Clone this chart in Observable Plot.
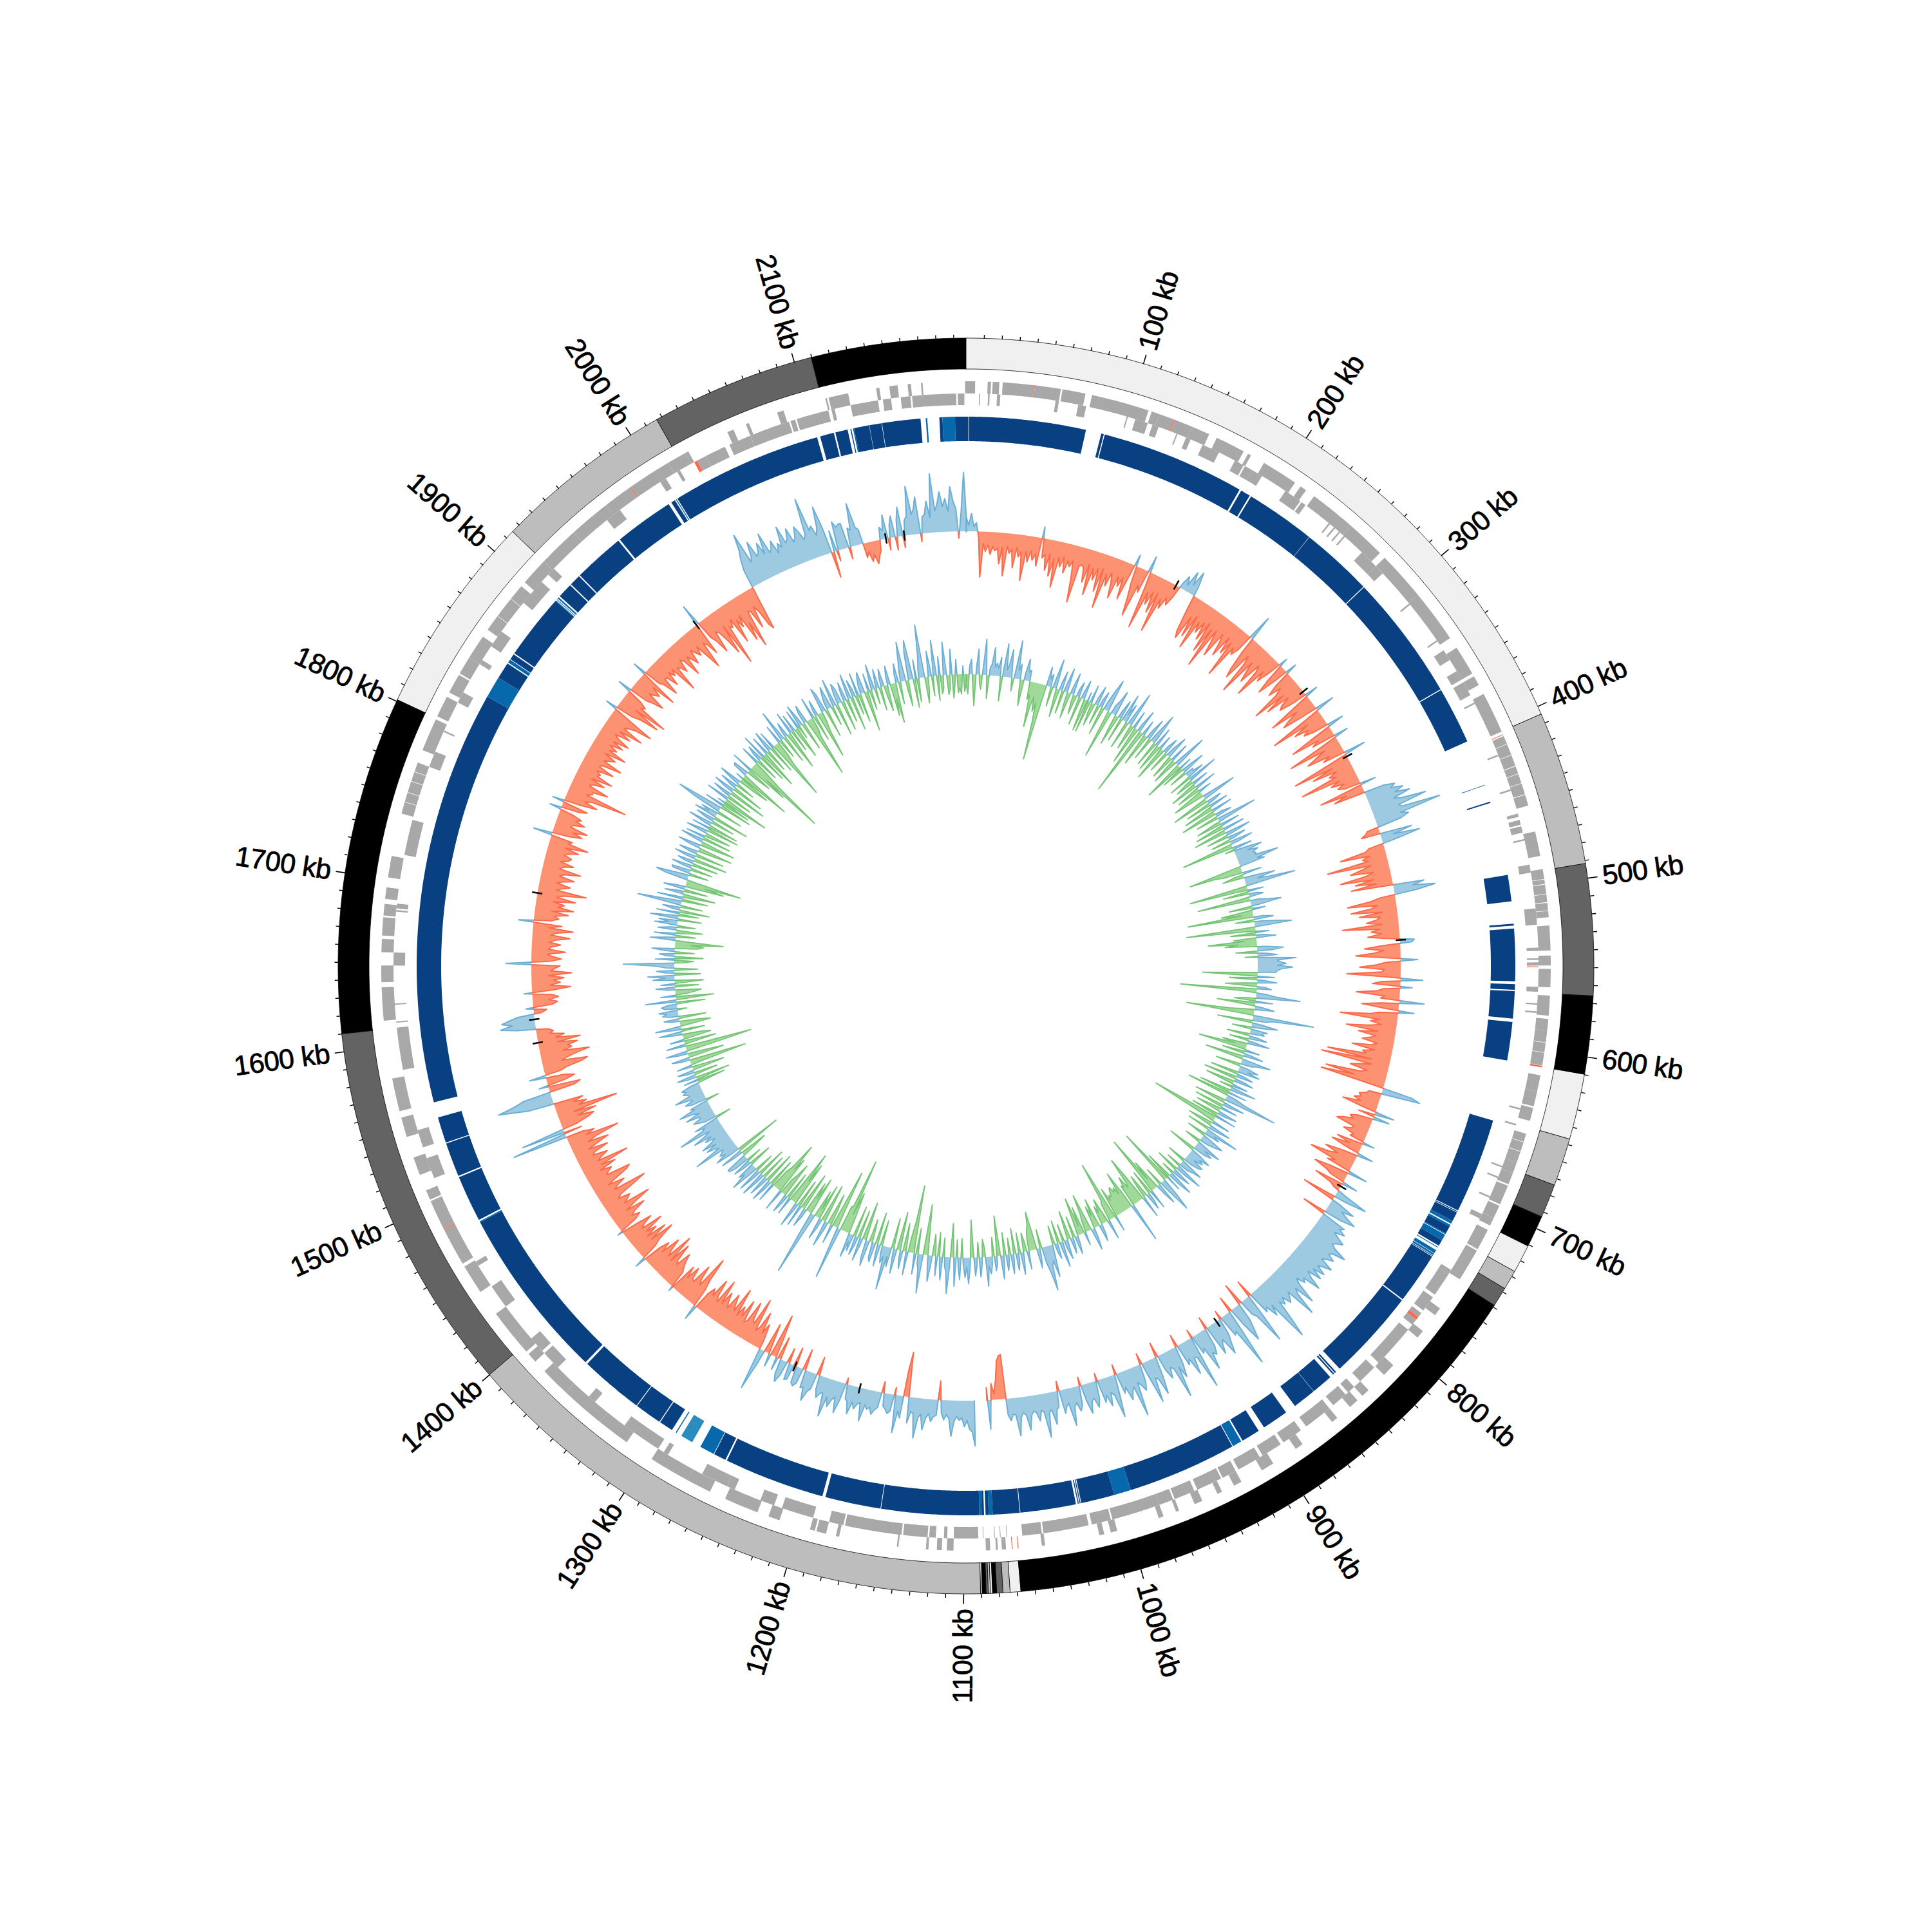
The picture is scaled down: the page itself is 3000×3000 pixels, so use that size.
<!DOCTYPE html>
<html><head><meta charset="utf-8">
<script src="https://cdn.jsdelivr.net/npm/d3@7"></script>
<script src="https://cdn.jsdelivr.net/npm/@observablehq/plot@0.6"></script>
<style>html,body{margin:0;padding:0;background:#fff}svg{display:block}svg text{letter-spacing:-0.5px}</style>
</head><body><div id="chart"></div>
<script>
const genomeKb = 2197;
const majorTicks = [100,200,300,400,500,600,700,800,900,1000,1100,1200,1300,1400,1500,1600,1700,1800,1900,2000,2100];

// contigs: end position (kb) and shade
const contigEnds = [405,492,566,610,647,674,693,711,727,738,749,1068,1074,1078,1081.5,1083.8,1085,1086.2,1087.4,1089.6,1090.5,1400,1610,1801,1915,2017,2110,2197];
const contigShades = ["#f0f0f0","#bdbdbd","#636363","#000000"];

// sequence blocks
const D="#084081",M="#0868ac",L="#2b8cbe";
const blocks = [[0,1.6,D],[2,77,D],[87,88.7,D],[89.3,182.3,D],[183.5,189.8,D],[190.8,235.9,D],[236.1,282.8,D],[283.3,364.6,D],[365.2,402,D],
[431.8,432.1,D],[443,443.8,D],[491,508,D],[522.3,523.5,D],[525.4,559,D],[560.8,564.4,D],[565.2,582.8,D],[585,609.7,D],
[649,710.5,D],[711,711.6,D],[712,718,D],[718,720,M],[720.8,722,M],[722,727,D],[727,727.6,M],[728,732,M],[732,736,D],[737,737.5,M],[739.3,741.5,M],[741.8,743,M],[743.3,743.8,D],[744.2,777.2,D],[778,837,D],[840,841,D],[841.6,842.6,D],[845,858.8,D],[859,874,D],[881,898,D],[902,914,D],[915,921,M],[921.5,992,D],[992,1003,M],[1003,1024.5,D],[1025,1025.6,D],[1026.2,1026.8,D],[1028,1063.8,D],[1064.2,1081.5,D],[1081.5,1084,M],[1084,1086,D],[1087,1088.5,D],[1088.5,1090,M],[1090,1152.8,D],[1153.2,1189,D],[1191,1256,D],[1257,1265,D],[1265.4,1275,M],[1281,1289,L],[1292.5,1293.2,M],[1296,1305,D],[1305.6,1323,D],[1323.5,1364.5,D],[1366,1478,D],[1478,1478.7,M],[1479.7,1509.7,D],[1510.6,1532.7,D],[1533.3,1550,D],[1560,1827,D],[1827,1841,M],[1841,1851.7,D],[1852.4,1854.6,M],[1855,1858.7,D],[1859.5,1902,D],[1902,1902.4,M],[1903,1903.4,M],[1904,1905,M],[1906,1915.6,D],[1916.4,1923.6,D],[1924.4,1957.4,D],[1958.6,1997,D],[1999,2001.7,D],[2002.4,2003,M],[2003.6,2101,D],[2103,2112,D],[2113,2121,D],[2122.8,2123.4,D],[2124.5,2125.2,M],[2125.2,2135,D],[2135.2,2143,D],[2143.3,2168,D],[2171.3,2172.3,M],[2180,2182,D],[2182,2190,M],[2190,2197,D]];

// gene tracks
const genesForward = [[0,5.5],[13,15],[16,20],[22,41],[41.4,57],[58,72],[76,111],[113,118],[118,127],[127.6,139],[139,150],[155,173],[176,178],[187,209],[213,217],[223,251],[251,275],[279,309],[309,341],[348,366],[368,374],[380,405],[408,413],[413.3,420],[420.3,427],[427.4,432],[432.3,438],[438.3,445],[445.4,452],[468,483],[491,497],[497.3,500],[500.4,506],[506.3,511],[511.4,516],[516.3,520],[525,540],[543,549],[551,562],[567,579],[581,588],[588,595],[595.3,601],[601.3,609],[615,625],[625,634],[635,643],[651,656],[656.3,662],[662.3,669],[669,676],[676,683],[684,696],[697,705],[705,710],[713,726],[727,747],[768,773],[785,790],[812,820],[833,838],[842,848],[858,862],[884,889],[905,913],[927,932],[940,943],[953,958],[968,970],[978,981],[1007,1011],[1015,1018],[1051,1053],[1074.5,1077],[1079.4,1080.6],[1084,1086.6],[1106,1110],[1113,1116],[1121,1122.5],[1139,1140],[1175,1177],[1183,1189],[1190,1193],[1212,1219],[1226,1247],[1257,1272],[1272,1297],[1315,1335],[1335,1362],[1362,1380],[1388,1394],[1396,1407],[1407,1425],[1441,1459],[1461,1484],[1484.6,1503],[1504,1510],[1520,1531],[1544,1556],[1560,1580],[1615,1635],[1638,1648],[1656,1664],[1666,1677],[1678,1685],[1688,1695],[1701,1714],[1740,1747],[1747.3,1753],[1753.3,1760],[1760.3,1766],[1766.3,1772],[1780,1800],[1802,1815],[1818,1830],[1831,1842],[1842,1857],[1862,1872],[1872.3,1885],[1885.3,1895],[1898,1915],[1915,1940],[1940,1965],[1965,1983],[1983.6,2010],[2010,2022],[2022,2024],[2050,2054],[2062,2064],[2082,2086],[2112,2113],[2114,2126],[2143,2145],[2151,2156],[2162,2164],[2170,2171],[2196.5,2197]];
const genesReverse = [[8,8.6],[13.5,14.5],[19,21],[55,57],[69,74],[99.5,100.3],[105,113],[116,120],[131.6,132.4],[138,141],[149,156],[155,160],[171,177],[178,183],[183,190],[207,218],[219,222],[240,241],[244,245],[248,249],[252,253],[267,279],[279,285],[309.5,310.5],[337.5,338.5],[345,352],[360,366],[368,377],[382,383],[417,418],[439.5,440.5],[455,457],[459,462],[463,467],[471,472],[487,492],[514,524],[538,540],[544.5,545.5],[547,549],[562,565],[572,573],[577,578],[637,638],[647,648],[674,675],[681,682],[694,695],[706,709],[745,748],[748,763],[765,775],[777,780],[782,786],[790,817],[821,833],[838,843],[845,855],[858,876],[880,893],[895,908],[910,925],[927,936],[937,953],[955,968],[969,978],[978,1008],[1009,1021],[1023,1051],[1052,1064],[1073.3,1073.7],[1077.3,1077.7],[1080.8,1081.2],[1087.8,1088.2],[1091,1106],[1110,1112],[1117,1121],[1122,1137],[1138,1173],[1174,1183],[1193,1213],[1218,1227],[1244,1249],[1249,1266],[1290,1293],[1297,1322],[1345,1350],[1376,1388],[1390,1400],[1425,1440],[1455,1458],[1515,1528],[1535,1546],[1584,1610],[1613,1613.8],[1624,1624.8],[1648,1656],[1681,1682],[1683,1686],[1716,1738],[1772,1782],[1795,1796],[1815,1822],[1842,1845],[1855,1866],[1888,1905],[1911,1916],[1960,1970],[2000,2004],[2012,2014],[2026,2032],[2032,2045],[2048,2062],[2062,2087],[2088,2091],[2092,2112],[2114,2116],[2126,2143],[2146,2151],[2157,2163],[2164,2191],[2192,2196]];
const redForward = [[41,41.4],[127,127.6],[406.8,407.2],[609.2,610.2],[1067,1067.5],[1070.5,1071],[1484,1484.6],[1983,1983.6]];
const redReverse = [[549.5,550],[780,782],[2024,2026]];

// GC skew, one list per 100 kb (missing = no signal)
const skew = [
[22,10,28,8,14,-8,-70,-18,-30,-20,-34,-22,-28,-24,-48,-22,-66,-20,-30,-24,-52,-20,-34,-26,-70,-24,-40,-22,-36,-26,-44,18,-30,-24,-48,-22,-56,-28,-72,-24,-38,-22,-46,-26,-34,-24,-50,-88,-30,-26],
[-30,-52,-22,-70,-26,-44,-24,-60,-22,-84,-28,-46,-24,-38,-62,-26,-40,-24,-58,-22,18,-28,-50,-78,-26,-36,26,-24,-90,-30,-48,-26,-58,-24,-86,-30,-44,-24,-34,-20,8,22,10,34,14,38,16,-28,-60,-70],
[-30,-62,-24,-78,-30,-46,-26,-54,-22,-70,-28,-92,-26,-44,-66,-24,-36,-58,-22,-48,-26,-84,-30,-40,-28,40,-26,-56,-70,-24,-38,-88,-28,-46,-60,-24,-34,-76,-26,-42,-22,14,-30,-52,-26,18,-28,-44,-24,-36],
[-80,-28,-62,-24,-40,-46,-26,20,-30,-72,-28,-46,-58,-24,30,-28,-86,-26,-52,-30,-40,-24,26,-30,-70,-26,-38,22,-28,-84,-26,-44,-60,-24,-36,34,-28,-92,-30,-64,-26,-40,-30,-90,-28,-44,-24,-36,-26,24],
[-70,-28,-50,32,48,40,58,44,66,38,50,88,42,46,106,40,52,38,-18,-22,-30,50,20,60,24,-24,-30,-72,-26,-38,-30,-96,-28,-44,-62,-26,-40,-80,-28,-58,-26,-66,48,30,64,34,-24,-40,-76,-30],
[-40,-72,-24,-60,-28,-34,-50,-26,-88,-30,-44,-28,-50,-24,22,18,-30,-56,-26,-42,-70,-28,26,-24,-38,-64,-26,-30,-84,-24,34,-28,-44,18,-26,-36,-68,-24,-30,38,-28,-58,-26,24,-30,-44,-90,-28,-42,-24],
[-44,-78,-28,-58,-30,-38,-50,-26,-34,-64,-28,-46,-40,-100,-30,-108,-28,-46,-60,-32,-42,-96,-50,-102,-30,46,60,-20,-24,-34,-30,-40,-28,-56,-24,30,-26,25,-24,-36,-30,-46,-54,-24,-26,-38,-20,-24,18,-42],
[-20,-48,-22,24,-26,-52,-30,-44,-72,-28,-40,30,-30,-56,-34,-24,24,-46,-18,-10,14,52,20,-54,14,40,22,34,50,28,-38,40,34,46,30,40,52,44,38,46,68,48,44,56,46,40,62,50,42,58],
[40,58,36,46,66,38,44,30,42,72,40,50,84,36,44,50,36,46,38,70,99,34,50,30,36,-28,30,81,32,24,-36,28,44,60,30,-26,34,92,30,34,-14,28,40,56,28,34,48,-20,30,42],
[36,62,24,30,-14,83,30,28,54,26,34,-20,28,48,30,77,28,24,40,26,-24,30,58,32,28,66,26,-18,28,40,30,24,76,28,34,46,24,32,-16,28,66,30,24,44,26,36,-12,28,40,24],
[28,46,26,-14,30,38,24,30,58,22,26,36,-16,24,28,50,26,30,68,28,24,40,26,24,30,52,28,24,30,59,26,24,34,24,-70,-68,-60,-30,-10,-26,45,-20,null,null,null,null,70,48,44,30],
[40,26,30,24,32,55,28,22,30,20,-30,24,26,34,22,30,48,24,30,62,24,22,40,-70,-40,34,24,58,-12,26,30,24,20,-18,24,28,36,26,30,24,50,22,26,34,24,44,26,22,-10,28],
[48,24,30,42,28,60,24,26,34,22,-29,24,30,46,26,28,-33,24,30,26,-30,24,26,-24,22,35,24,-36,20,-30,-68,20,-14,-48,22,66,-14,-40,-24,-56,-30,-22,-73,-30,-34,-62,-28,-24,-58,-30],
[-44,-26,-70,-30,-40,-54,-28,-36,-50,-28,-66,-26,-34,-60,-30,-40,-28,24,-30,-46,-82,-30,-38,-60,-28,-30,-48,-26,-44,8,-28,-34,-42,-54,-30,-36,-62,-28,-72,-30,-40,-58,-28,-44,-30,17,-26,-38,-66,-28],
[-58,-26,-46,-30,-62,-28,-34,-50,-26,8,-30,-40,-28,-36,-56,-26,-44,-72,-30,-38,-44,-26,-32,-58,-80,-28,-36,-50,-24,-40,-60,-68,-30,-34,-42,-24,-52,-30,-77,-28,-36,-48,-26,-30,-54,-24,-40,-60,-28,-44],
[-81,-30,-44,-26,87,-28,69,-24,-44,-54,-30,-60,-26,-97,-36,-50,-30,-46,40,62,87,60,44,-40,-50,15,-30,-44,-28,26,-24,-36,-60,-70,-30,-40,-56,-76,-36,-50,-44,-60,-30,-66,-28,-42,-20,-26,-18,30],
[55,36,52,40,26,-12,-20,12,-30,-38,-24,-40,-30,13,-34,-60,-28,-44,-34,-50,-26,-62,-30,-36,-44,40,-28,-46,-32,-24,-52,-26,-30,-44,-26,-36,-58,-28,-36,-62,-24,-44,24,-26,-38,-30,-52,-26,-59,-34],
[-44,-26,-60,-30,-40,-75,-28,-36,-48,-26,-36,-52,-28,-34,-60,-26,-30,-46,-24,-36,-40,-28,-34,-48,-26,-61,-28,-34,30,-26,-46,-30,-52,-24,-26,-44,-28,-36,-20,19,-28,-40,19,-26,-52,-30,-40,-95,-28,-36],
[-36,-59,-26,-30,-48,-24,-57,-30,-34,-26,-52,-26,-30,-60,-28,-36,-44,-24,-57,-28,-38,-24,-44,-26,-50,-30,-22,-46,-26,-62,-28,-34,-44,-70,-26,19,-28,-40,-70,-26,-78,-30,-36,-24,22,-30,-40,-56,-26,-34],
[-40,-24,-62,22,-26,-34,-56,-28,-30,-48,-26,-36,-26,-70,-30,-34,-44,-24,-30,-58,-28,-36,-46,-24,-32,-40,-26,-48,-70,-28,-34,-52,35,-28,-38,-60,-26,-30,-48,-72,-26,-95,-32,-36,-24,-66,-30,-44,-26,-72],
[-44,-86,-28,-30,-60,-26,-36,-62,-70,30,48,60,85,36,44,66,40,44,58,38,70,36,40,52,30,44,36,68,40,44,60,36,42,58,48,34,40,97,44,50,34,44,77,40,-40,34,-16,46,36,40],
[40,-18,30,26,67,28,24,-22,-14,-30,-20,-35,-24,-16,20,14,38,-18,20,34,-20,26,46,-18,24,30,76,32,40,58,-12,26,30,50,24,92,34,44,63,40,52,32,70,48,36,-10,30,92]
];

// GC content deviation, one list per 100 kb
const gcDev = [
[-14,-30,14,24,-16,-48,12,40,-12,-22,14,56,10,-36,12,18,44,14,20,12,30,-38,14,52,12,20,44,10,-20,12,60,14,24,-18,-40,12,34,14,18,-28,-20,-70,-36,-22,-44,-30,-60,-119,-48,30],
[12,20,-30,14,46,-14,-44,12,30,-36,14,38,-12,-40,10,34,-14,-30,12,24,-44,10,30,-12,-50,14,-50,28,-14,-36,12,31,-30,14,26,-44,12,34,52,-12,-76,14,22,40,-16,-48,12,30,-38,44],
[12,30,-44,14,55,-12,-40,28,-14,-60,12,36,-109,-20,24,-12,-52,14,34,-36,12,49,14,-40,30,-12,-44,22,-14,-55,12,26,-34,14,36,-12,-38,30,-14,-42,12,54,-16,-64,20,-36,12,38,-28,14],
[12,28,-36,48,-12,-30,26,-14,-44,34,-12,-38,20,-16,-50,-24,14,54,-14,-59,24,12,-40,30,-12,-48,32,-14,-57,12,26,-36,14,63,-12,-40,30,-14,-46,34,-12,-52,40,14,-34,28,12,-30,36,14],
[-82,-24,30,-14,22,44,20,36,26,30,28,64,30,40,-30,-84,-44,-30,30,-14,-34,16,48,20,38,78,-16,-92,-20,24,-40,12,22,-16,-83,14,26,47,12,-36,20,-12,-50,-18,-103,14,30,-30,12,38],
[57,-12,-108,-24,20,-40,12,30,-36,-20,-76,-30,-50,14,40,24,-34,14,30,-20,59,30,34,44,30,54,36,30,28,-86,-30,26,-44,12,30,-20,-50,12,22,-119,-20,14,30,68,-14,-34,26,-60,-20,12],
[30,-14,-40,-106,-20,94,30,20,-55,14,40,16,-30,26,18,22,-36,14,28,-30,12,34,-40,-20,-76,-14,22,-36,12,30,-61,-14,45,24,16,-40,12,30,14,34,-44,12,26,-52,14,30,-46,-12,24,-20],
[40,12,-50,28,-68,14,30,83,-14,-50,34,12,-46,26,-14,-40,30,12,-44,32,-56,-107,-24,28,-16,-40,34,12,-36,53,14,24,-30,12,36,26,14,-26,12,40,16,30,20,-45,14,34,18,26,12,30],
[26,14,-30,36,22,16,-24,44,18,-36,30,14,-20,40,20,-44,24,-90,-18,28,55,18,-30,34,14,-50,-20,-96,-24,30,-40,14,26,-38,-20,34,-44,-76,-36,-28,-48,-32,-36,62,-30,-63,-28,-40,-34,-44],
[-40,-30,-34,-26,-48,24,-30,-95,-34,-28,30,-14,-40,-20,-30,14,26,-46,-20,-36,14,34,-14,-60,-30,-16,20,-44,-14,-60,-24,12,28,-34,12,24,-46,-12,30,14,-28,40,12,-36,24,14,-30,12,50,24],
[30,69,40,24,-30,14,30,-24,-60,-40,-34,-20,28,-16,-30,12,34,-32,14,26,-40,12,30,-26,12,24,-36,14,36,-20,-63,12,22,-30,12,26,14,45,-14,-28,12,30,-24,12,28,-12,-59,14,40,14],
[30,12,-30,34,14,-28,44,-14,-53,12,56,22,14,-30,36,12,-38,30,-14,-34,12,40,14,-36,-79,-20,60,24,14,-40,32,-16,-106,-50,-24,36,-14,-44,28,12,-60,-14,38,12,-48,30,14,67,16,26],
[14,-40,34,12,-50,30,24,-14,-36,40,28,-18,-60,12,36,-44,14,30,-48,26,12,38,-30,-66,-30,-118,-40,-40,82,20,-40,-93,-36,30,-24,-50,14,40,-20,-60,14,34,-56,-14,-44,12,102,30,-60,-24],
[-50,14,30,-60,-20,34,-44,12,40,-70,-40,-86,-24,28,-44,14,30,-56,-36,-24,34,-60,-40,-83,-40,-30,30,-44,14,36,-50,12,32,-40,14,40,-46,12,38,-30,14,45,20,28,-36,14,30,-24,24,34],
[34,-20,-44,14,36,-73,14,40,22,30,24,20,68,24,30,42,24,46,28,20,36,24,52,30,22,71,32,24,40,-24,20,28,36,22,24,44,20,30,51,24,30,-20,24,34,20,26,47,22,24,30],
[24,30,14,-44,22,-53,14,30,-36,12,26,-50,-18,24,-14,-89,-40,14,28,-56,-30,14,34,-60,-104,-24,30,-16,-50,22,-14,-44,-30,14,36,-36,12,40,-14,-48,-30,12,24,-42,14,25,18,30,-14,20],
[25,14,-44,49,-14,-58,24,-16,-30,-40,14,30,-36,22,-14,-44,34,14,42,-40,14,28,-36,14,30,80,-14,-30,30,-44,12,24,-30,14,36,-34,-44,-24,-74,-20,40,12,-30,34,-14,-40,30,12,-28,36],
[14,30,-36,44,14,-30,36,-46,12,28,-34,14,69,16,-40,40,-14,-50,30,12,-36,34,14,-60,-30,-86,-20,36,52,14,-30,28,30,-34,12,32,-40,14,26,-52,14,34,-44,12,30,-14,-54,16,36,-20],
[-54,12,36,-44,30,-14,-40,34,14,-50,28,-46,12,38,-36,14,30,-56,36,14,28,-40,44,74,18,-50,30,-44,12,-73,-14,36,-40,12,30,-60,14,34,-50,12,28,-30,14,36,-24,-50,12,-82,-20,24],
[26,-14,-40,34,-66,-30,-129,-50,-20,30,-36,14,26,-44,40,-60,-16,30,-36,14,34,-44,28,-20,-96,-40,-24,30,-30,12,50,-44,12,24,-60,-16,36,-34,28,-14,-50,30,-20,36,12,-44,20,30,-30,-95],
[-30,-20,34,-40,12,26,-73,-30,-16,40,30,-44,14,26,36,-30,14,44,-50,14,33,24,-46,14,30,-36,12,40,-52,28,14,-30,36,-44,12,26,34,-62,-16,28,-30,14,40,-24,12,30,-36,14,28,-20],
[-40,14,30,-50,-24,-62,14,30,-34,14,36,62,-14,-40,44,62,14,-44,30,-36,14,34,83,16,-40,-20,40,14,-30,56,14,-38,30,-28,-20,52,12,-30,-22,40,-36,-16,24,-28,-20,-30,14,-26]
];

// short black marks on the skew ring
const skewMarks = [176,310,373,528,735,884,1185,1240,1586,1605,1707,1963,2132,2147];

// ---- helpers (turn kb and radius into plane coordinates) ----
const theta = kb => kb / genomeKb * 2 * Math.PI;
const px = (kb, r) => r * Math.sin(theta(kb));
const py = (kb, r) => r * Math.cos(theta(kb));
const skewR = d3.scaleLinear().domain([-100,100]).range([575,775]);
const gcR = d3.scaleLinear().domain([-100,100]).range([353,553]);

function sector(list, r0, r1) {
  const rows = [];
  list.forEach(([a,b,color], id) => {
    const n = Math.max(1, Math.ceil((b-a)/1.5));
    for (let i=0;i<=n;i++) {
      const k = a+(b-a)*i/n;
      rows.push({id,color,x1:px(k,r1),y1:py(k,r1),x2:px(k,r0),y2:py(k,r0)});
    }
  });
  return rows;
}
function ringMark(list, r0, r1, extra) {
  return Plot.area(sector(list,r0,r1), {x1:"x1",y1:"y1",x2:"x2",y2:"y2",z:"id",fill:"color",...extra});
}
const contigs = contigEnds.map((e,i)=>[i?contigEnds[i-1]:0, e, contigShades[i%4]]);
const grey = "#a8a8a8", red = "#fb6a4a";
const tag = (list,c)=>list.map(([a,b])=>[a,b,c]);

function series(chunks, scale, base) {
  const pts = [];
  chunks.forEach((vals,k)=>{
    const span = k===21 ? genomeKb-2100 : 100;
    vals.forEach((v,i)=>pts.push({kb:k*100+i*span/vals.length,v}));
  });
  pts.push({kb:genomeKb,v:pts[0].v});
  const rows=[]; let run=0,cur=null,prev=null;
  const put=(kb,v,s)=>rows.push({run,s,x1:px(kb,base),y1:py(kb,base),x2:px(kb,scale(v)),y2:py(kb,scale(v))});
  for (const p of pts) {
    if (p.v==null) { if(cur){put(prev.kb,0,cur);} cur=null; prev=null; continue; }
    const s=Math.sign(p.v);
    if (cur && s!==cur) {
      const k=prev.kb+prev.v/(prev.v-p.v)*(p.kb-prev.kb);
      put(k,0,cur); run++; cur=s; put(k,0,cur);
    } else if(!cur){ run++; cur=s; put(p.kb,0,cur); }
    put(p.kb,p.v,cur); prev=p;
  }
  if(cur) put(prev.kb,0,cur);
  return rows;
}
function seriesMarks(rows, posFill, posLine, negFill, negLine, sw) {
  const pos=rows.filter(d=>d.s>0), neg=rows.filter(d=>d.s<0);
  return [
    Plot.area(pos,{x1:"x1",y1:"y1",x2:"x2",y2:"y2",z:"run",fill:posFill}),
    Plot.line(pos,{x:"x2",y:"y2",z:"run",stroke:posLine,strokeWidth:sw}),
    Plot.area(neg,{x1:"x1",y1:"y1",x2:"x2",y2:"y2",z:"run",fill:negFill}),
    Plot.line(neg,{x:"x2",y:"y2",z:"run",stroke:negLine,strokeWidth:sw})
  ];
}
const tickRows = d3.range(0,genomeKb,10).filter(k=>k%100!==0).map(k=>({x1:px(k,975),y1:py(k,975),x2:px(k,981),y2:py(k,981)}));
const majorRows = majorTicks.map(k=>({x1:px(k,975),y1:py(k,975),x2:px(k,990),y2:py(k,990)}));
const labelRows = majorTicks.map(k=>{
  const deg=k/genomeKb*360;
  return {text:k+" kb",x:px(k,998),y:py(k,998),right:deg<180,rot:deg<180?deg-90:deg+90};
});
const markRows = skewMarks.map(k=>({x1:px(k,668),y1:py(k,668),x2:px(k,684),y2:py(k,684)}));

const fontFamily = "Liberation Sans";
const textOpts = {x:"x",y:"y",text:"text",rotate:"rot",lineAnchor:"middle",fontSize:43,fontFamily,fill:"#000",stroke:"#000",strokeWidth:0.8};
const chart = Plot.plot({
  width:3000,height:3000,margin:0,
  x:{domain:[-1500,1500],axis:null},
  y:{domain:[-1500,1500],axis:null},
  color:{type:"identity"},
  marks:[
    ringMark(contigs,927,975,{stroke:"#000",strokeWidth:0.8}),
    Plot.link(tickRows,{x1:"x1",y1:"y1",x2:"x2",y2:"y2",stroke:"#000",strokeWidth:1.4}),
    Plot.link(majorRows,{x1:"x1",y1:"y1",x2:"x2",y2:"y2",stroke:"#000",strokeWidth:1.6}),
    Plot.text(labelRows.filter(d=>d.right),{...textOpts,textAnchor:"start"}),
    Plot.text(labelRows.filter(d=>!d.right),{...textOpts,textAnchor:"end"}),
    ringMark(tag(genesForward,grey),889,908),
    ringMark(tag(genesReverse,grey),871,889),
    ringMark(tag(redForward,red),889,908),
    ringMark(tag(redReverse,red),871,889),
    ringMark(blocks,815,853),
    ...seriesMarks(series(skew,skewR,675),"#9ecae1","#6baed6","#fc9272","#fb6a4a",2),
    Plot.link(markRows,{x1:"x1",y1:"y1",x2:"x2",y2:"y2",stroke:"#000",strokeWidth:2.5}),
    ...seriesMarks(series(gcDev,gcR,453),"#9ecae1","#6baed6","#a1d99b","#74c476",1.8)
  ]
});
document.getElementById("chart").appendChild(chart);
</script></body></html>
